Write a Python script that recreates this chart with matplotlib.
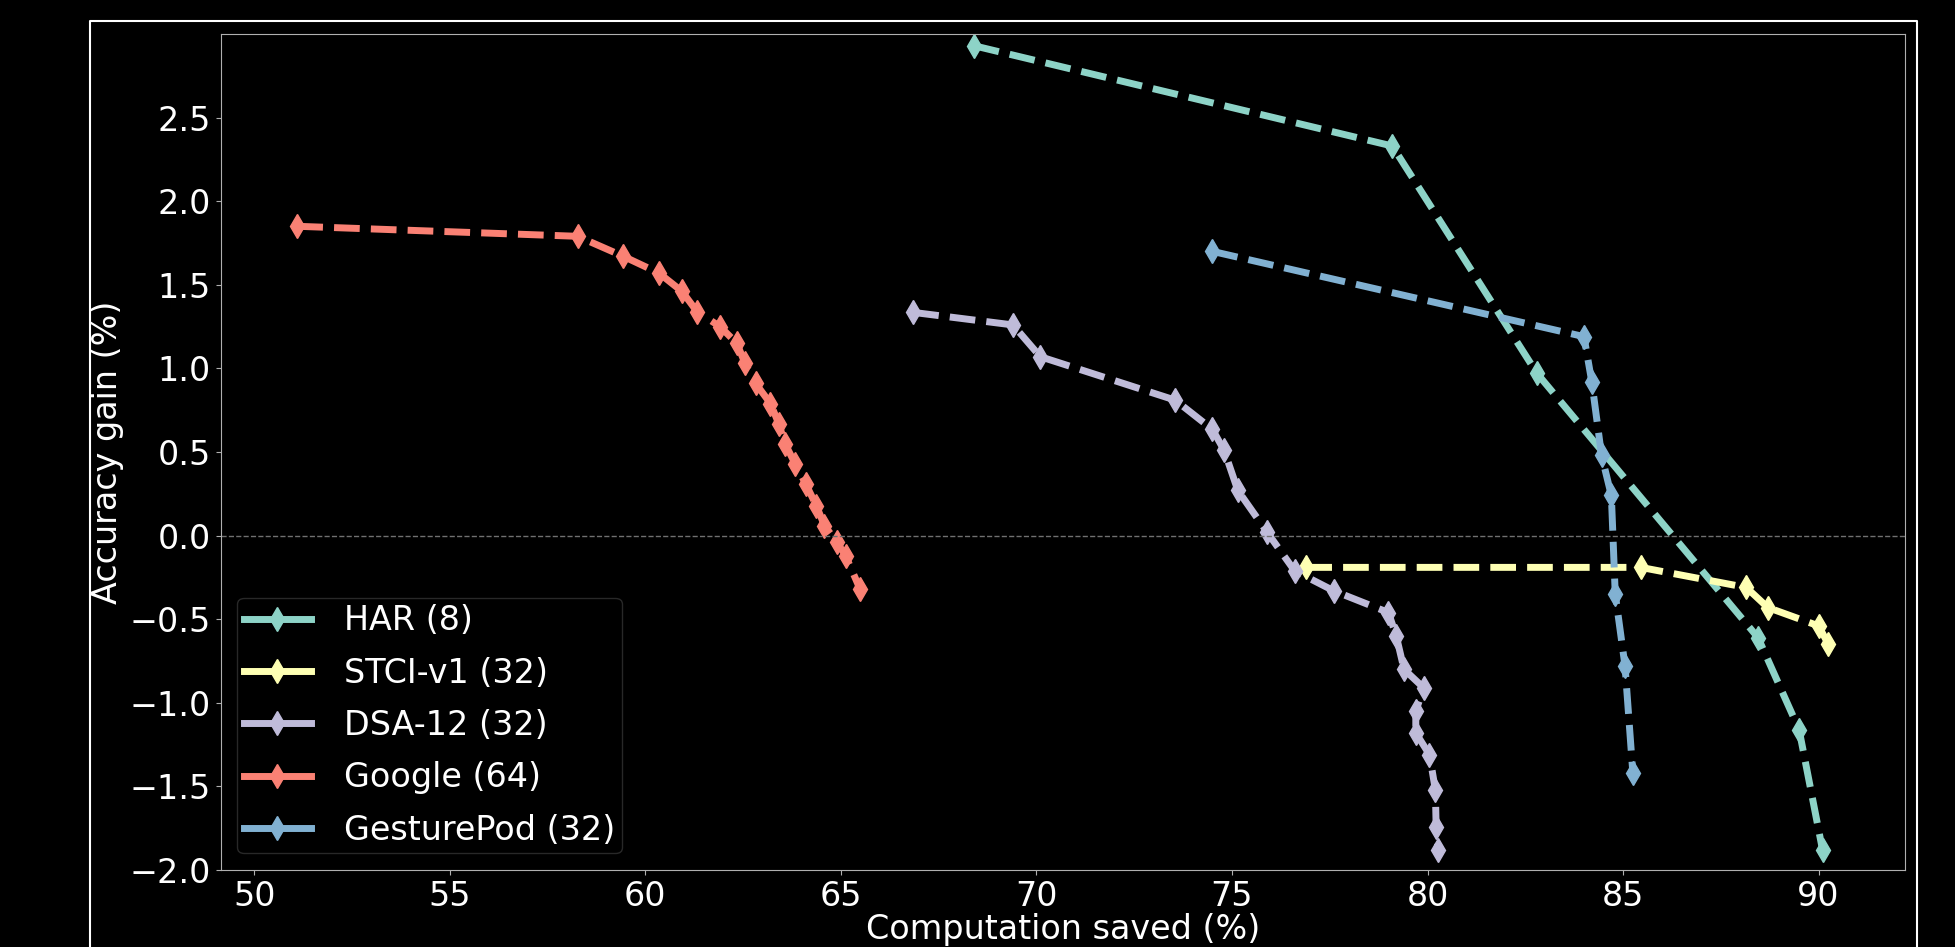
import matplotlib
matplotlib.use('Agg')
import matplotlib.pyplot as plt
from matplotlib.lines import Line2D
import numpy as np

plt.style.use('dark_background')

# computation saved (%) / accuracy gain (%)
HAR_X = [68.4, 79.1, 82.8, 88.45, 89.5, 90.1]
HAR_Y = [2.93, 2.33, 0.97, -0.61, -1.16, -1.88]

STCI_X = [76.9, 85.45, 88.15, 88.7, 90.0, 90.25]
STCI_Y = [-0.19, -0.19, -0.31, -0.43, -0.54, -0.65]

DSA_X = [66.85, 69.4, 70.1, 73.55, 74.5, 74.8, 75.15, 75.9, 76.6, 77.6,
         79.0, 79.2, 79.4, 79.9, 79.7, 79.7, 80.05, 80.2, 80.22, 80.27]
DSA_Y = [1.335, 1.26, 1.07, 0.81, 0.635, 0.51, 0.27, 0.02, -0.21, -0.33,
         -0.46, -0.60, -0.80, -0.91, -1.05, -1.18, -1.31, -1.52, -1.74, -1.88]

GOOGLE_X = [51.1, 58.27, 59.44, 60.35, 60.94, 61.32, 61.91, 62.34, 62.55, 62.82,
            63.2, 63.41, 63.57, 63.83, 64.1, 64.37, 64.58, 64.9, 65.12, 65.49]
GOOGLE_Y = [1.85, 1.79, 1.67, 1.57, 1.46, 1.34, 1.25, 1.15, 1.03, 0.91,
            0.79, 0.67, 0.55, 0.43, 0.31, 0.18, 0.06, -0.04, -0.12, -0.32]

GP_X = [74.5, 84.0, 84.2, 84.45, 84.7, 84.8, 85.05, 85.25]
GP_Y = [1.70, 1.19, 0.92, 0.48, 0.24, -0.35, -0.78, -1.42]

LABELS = ['HAR (8)', 'STCI-v1 (32)', 'DSA-12 (32)', 'Google (64)', 'GesturePod (32)']

FS = 24


def draw(fig_name):
    fig = plt.figure(figsize=(19.55, 9.47), dpi=100)
    ax = fig.add_axes([0.1129, 0.0813, 0.9744 - 0.1129, 0.9641 - 0.0813])

    series = [(HAR_X, HAR_Y), (STCI_X, STCI_Y), (DSA_X, DSA_Y),
              (GOOGLE_X, GOOGLE_Y), (GP_X, GP_Y)]
    for (x, y), name in zip(series, LABELS):
        ax.plot(x, y, linestyle='--', linewidth=5, marker='d', markersize=12, label=name)

    ax.axhline(0, color='#707070', linestyle='--', linewidth=1)

    ax.set_ylim(-2.0, 3.0)
    ax.set_yticks(np.arange(-2.0, 2.51, 0.5))
    ax.tick_params(labelsize=FS, colors='white')
    for s in ax.spines.values():
        s.set_color('#b0b0b0')
    ax.tick_params(color='#b0b0b0')

    ax.set_xlabel('Computation saved (%)', fontsize=FS, labelpad=0)
    ax.set_ylabel('Accuracy gain (%)', fontsize=FS, labelpad=4)

    leg = ax.legend(loc='lower left', fontsize=FS, edgecolor='#333333',
                    labelspacing=0.58, borderpad=0.2, handletextpad=1.0)
    for line in leg.get_lines():
        line.set_linestyle('-')

    # white frame around the plot, runs off the bottom of the picture
    fig.add_artist(Line2D([0.046, 0.046, 0.9806, 0.9806], [-0.01, 0.9778, 0.9778, -0.01],
                          transform=fig.transFigure, color='white', linewidth=1.5))

    fig.savefig(fig_name, dpi=100, facecolor='black')


if __name__ == '__main__':
    draw('out.png')
